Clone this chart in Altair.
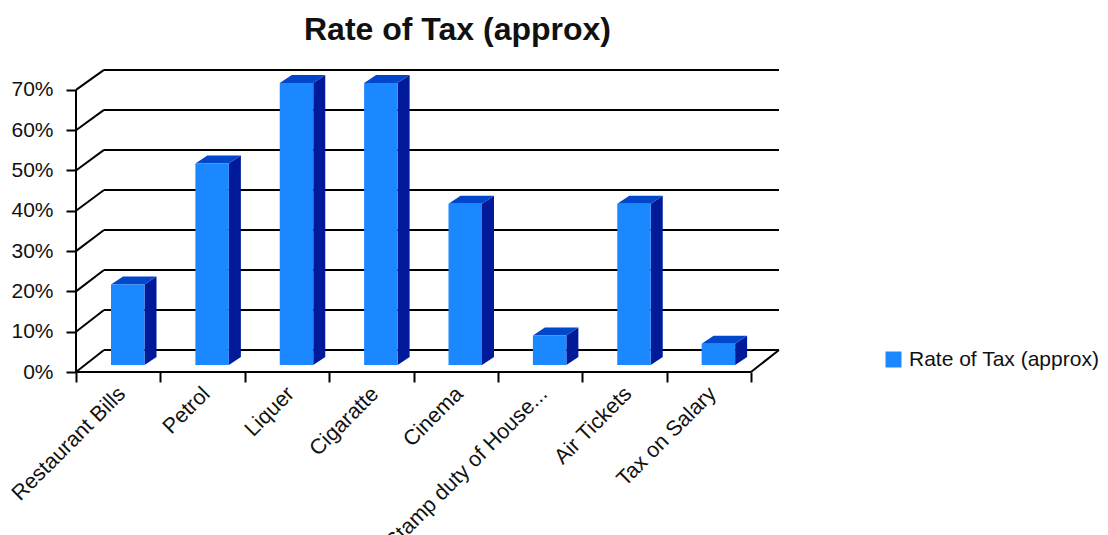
import altair as alt
import pandas as pd

categories = ["Restaurant Bills", "Petrol", "Liquer", "Cigaratte", "Cinema",
              "Stamp duty of House...", "Air Tickets", "Tax on Salary"]
rates = [20, 50, 70, 70, 40, 7.3, 40, 5.3]
y_ticks = [0, 10, 20, 30, 40, 50, 60, 70]
series = "Rate of Tax (approx)"
FONT = "Liberation Sans"

# scale: one category slot = 1 x unit, one percent = 1 y unit
PX_X = 84.375
PX_Y = 4.03
W, H = 703, 302
sx = alt.Scale(domain=[0, W / PX_X], nice=False, zero=False)
sy = alt.Scale(domain=[0, H / PX_Y], nice=False, zero=False)

bar_l, bar_w = 35 / PX_X, 33.5 / PX_X
lift = 7 / PX_Y
dx_bar, dy_bar = 12 / PX_X, 8 / PX_Y
wall_dx = 28 / PX_X

def back(v):
    return (22 - 2 * v / 70 + v * PX_Y) / PX_Y

front, side, top = [], [], []
for i, (c, r) in enumerate(zip(categories, rates)):
    L, R = i + bar_l, i + bar_l + bar_w
    t = lift + r
    front.append(dict(c=c, x=L, x2=R, y=lift, y2=t, s=series))
    side += [dict(c=c, x=R, lo=lift, hi=t),
             dict(c=c, x=R + dx_bar, lo=lift + dy_bar, hi=t + dy_bar)]
    top += [dict(c=c, x=L, lo=t, hi=t),
            dict(c=c, x=L + dx_bar, lo=t, hi=t + dy_bar),
            dict(c=c, x=R, lo=t, hi=t + dy_bar),
            dict(c=c, x=R + dx_bar, lo=t + dy_bar, hi=t + dy_bar)]

lines = []
for v in y_ticks:
    lines.append(dict(x=0, x2=wall_dx, y=v, y2=back(v)))
    lines.append(dict(x=wall_dx, x2=8 + wall_dx, y=back(v), y2=back(v)))
lines.append(dict(x=8, x2=8 + wall_dx, y=0, y2=back(0)))
lines.append(dict(x=0, x2=8, y=0, y2=0))
lines.append(dict(x=0, x2=0, y=0, y2=70))

X = lambda **k: alt.X("x:Q", scale=sx, **k)
Y = lambda **k: alt.Y("y:Q", scale=sy, **k)

frame = alt.Chart(pd.DataFrame(lines)).mark_rule(color="black", strokeWidth=2).encode(
    x=X(axis=alt.Axis(values=list(range(9)), labels=False, title=None, grid=False, domain=False,
                      tickSize=10, tickWidth=2, tickColor="black")),
    x2="x2:Q",
    y=Y(axis=alt.Axis(values=y_ticks, labelExpr="datum.value + '%'", title=None, grid=False, domain=False,
                      tickSize=10, tickWidth=2, tickColor="black", labelFont=FONT, labelFontSize=21,
                      labelColor="#111111", labelPadding=13)),
    y2="y2:Q",
)

side_m = alt.Chart(pd.DataFrame(side)).mark_area(color="#001a99", orient="vertical").encode(
    x=alt.X("x:Q", scale=sx), y=alt.Y("lo:Q", scale=sy), y2="hi:Q", detail="c:N")
top_m = alt.Chart(pd.DataFrame(top)).mark_area(color="#0047cc", orient="vertical").encode(
    x=alt.X("x:Q", scale=sx), y=alt.Y("lo:Q", scale=sy), y2="hi:Q", detail="c:N")
front_m = alt.Chart(pd.DataFrame(front)).mark_rect().encode(
    x=alt.X("x:Q", scale=sx), x2="x2:Q",
    y=alt.Y("y:Q", scale=sy), y2="y2:Q",
    color=alt.Color("s:N", scale=alt.Scale(domain=[series], range=["#1c88ff"]),
                    legend=alt.Legend(title=None, orient="none", legendX=807, legendY=279, padding=0,
                                      symbolType="square", symbolSize=256, symbolStrokeWidth=0,
                                      labelFont=FONT, labelFontSize=21, labelColor="#111111",
                                      labelOffset=5, labelLimit=400)),
)

lab = pd.DataFrame({"c": categories, "x": [i + 0.55 for i in range(8)]})
labels = alt.Chart(lab).mark_text(font=FONT, fontSize=21.5, angle=315, align="right", baseline="middle",
                                  color="#111111").encode(
    x=alt.X("x:Q", scale=sx), y=alt.value(H + 19), text="c:N")

chart = alt.layer(frame, side_m, top_m, front_m, labels).properties(
    width=W, height=H,
    padding={"left": 68, "top": 62, "right": 321, "bottom": 172},
    autosize=alt.AutoSizeParams(type="none"),
    title=alt.TitleParams(series, font=FONT, fontSize=32, fontWeight="bold", color="#111111",
                          anchor="middle", dx=30, offset=22),
).configure_view(stroke=None)

chart.save("out.html", embed_options={"renderer": "svg", "actions": False})
